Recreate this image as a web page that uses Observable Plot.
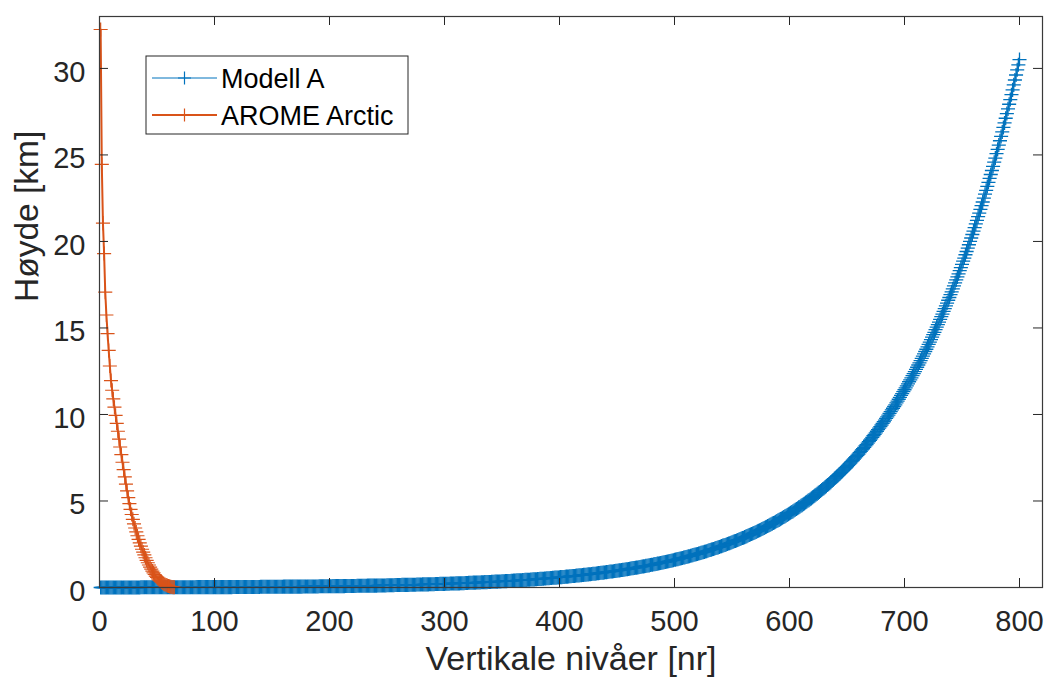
<!DOCTYPE html>
<html>
<head>
<meta charset="utf-8">
<script src="https://cdn.jsdelivr.net/npm/d3@7"></script>
<script src="https://cdn.jsdelivr.net/npm/@observablehq/plot@0.6"></script>
<style>
  html, body { margin: 0; padding: 0; background: #fff; overflow: hidden; }
  #chart { position: relative; width: 1048px; height: 680px; }
  #legend { position: absolute; left: 0; top: 0; pointer-events: none; }
</style>
</head>
<body>
<div id="chart"></div>
<script>
// Height [km] of each vertical level, level 1 first (ten levels per row)
const modellA = [
  0,0,0,0,0,0,0,0,0,0,
  0,0,0,0,0,0,0,0,0,0,
  0,0,0,0,0,0,0,0,0,0,
  0,0,0,0,0,0.01,0.01,0.01,0.01,0.01,
  0.01,0.01,0.01,0.01,0.01,0.01,0.01,0.01,0.01,0.01,
  0.01,0.01,0.01,0.01,0.01,0.01,0.01,0.01,0.01,0.01,
  0.01,0.01,0.01,0.01,0.01,0.01,0.01,0.01,0.01,0.01,
  0.01,0.01,0.01,0.01,0.01,0.01,0.01,0.01,0.01,0.01,
  0.01,0.01,0.01,0.02,0.02,0.02,0.02,0.02,0.02,0.02,
  0.02,0.02,0.02,0.02,0.02,0.02,0.02,0.02,0.02,0.02,
  0.02,0.02,0.02,0.02,0.02,0.02,0.02,0.02,0.02,0.02,
  0.02,0.02,0.02,0.02,0.02,0.03,0.03,0.03,0.03,0.03,
  0.03,0.03,0.03,0.03,0.03,0.03,0.03,0.03,0.03,0.03,
  0.03,0.03,0.03,0.03,0.03,0.03,0.03,0.03,0.03,0.04,
  0.04,0.04,0.04,0.04,0.04,0.04,0.04,0.04,0.04,0.04,
  0.04,0.04,0.04,0.04,0.04,0.04,0.04,0.04,0.04,0.05,
  0.05,0.05,0.05,0.05,0.05,0.05,0.05,0.05,0.05,0.05,
  0.05,0.05,0.05,0.05,0.05,0.05,0.06,0.06,0.06,0.06,
  0.06,0.06,0.06,0.06,0.06,0.06,0.06,0.06,0.06,0.06,
  0.07,0.07,0.07,0.07,0.07,0.07,0.07,0.07,0.07,0.07,
  0.07,0.07,0.08,0.08,0.08,0.08,0.08,0.08,0.08,0.08,
  0.08,0.08,0.08,0.09,0.09,0.09,0.09,0.09,0.09,0.09,
  0.09,0.09,0.09,0.10,0.10,0.10,0.10,0.10,0.10,0.10,
  0.10,0.10,0.11,0.11,0.11,0.11,0.11,0.11,0.11,0.11,
  0.11,0.12,0.12,0.12,0.12,0.12,0.12,0.12,0.12,0.13,
  0.13,0.13,0.13,0.13,0.13,0.13,0.14,0.14,0.14,0.14,
  0.14,0.14,0.15,0.15,0.15,0.15,0.15,0.15,0.15,0.16,
  0.16,0.16,0.16,0.16,0.16,0.17,0.17,0.17,0.17,0.17,
  0.18,0.18,0.18,0.18,0.18,0.18,0.19,0.19,0.19,0.19,
  0.19,0.20,0.20,0.20,0.20,0.21,0.21,0.21,0.21,0.21,
  0.22,0.22,0.22,0.22,0.23,0.23,0.23,0.23,0.23,0.24,
  0.24,0.24,0.24,0.25,0.25,0.25,0.25,0.26,0.26,0.26,
  0.27,0.27,0.27,0.27,0.28,0.28,0.28,0.29,0.29,0.29,
  0.29,0.30,0.30,0.30,0.31,0.31,0.31,0.32,0.32,0.32,
  0.33,0.33,0.33,0.34,0.34,0.34,0.35,0.35,0.35,0.36,
  0.36,0.36,0.37,0.37,0.38,0.38,0.38,0.39,0.39,0.40,
  0.40,0.40,0.41,0.41,0.42,0.42,0.42,0.43,0.43,0.44,
  0.44,0.45,0.45,0.45,0.46,0.46,0.47,0.47,0.48,0.48,
  0.49,0.49,0.50,0.50,0.51,0.51,0.52,0.52,0.53,0.53,
  0.54,0.55,0.55,0.56,0.56,0.57,0.57,0.58,0.58,0.59,
  0.60,0.60,0.61,0.61,0.62,0.63,0.63,0.64,0.65,0.65,
  0.66,0.67,0.67,0.68,0.69,0.69,0.70,0.71,0.71,0.72,
  0.73,0.74,0.74,0.75,0.76,0.77,0.77,0.78,0.79,0.80,
  0.80,0.81,0.82,0.83,0.84,0.85,0.85,0.86,0.87,0.88,
  0.89,0.90,0.91,0.92,0.92,0.93,0.94,0.95,0.96,0.97,
  0.98,0.99,1.00,1.01,1.02,1.03,1.04,1.05,1.06,1.07,
  1.08,1.10,1.11,1.12,1.13,1.14,1.15,1.16,1.17,1.19,
  1.20,1.21,1.22,1.23,1.25,1.26,1.27,1.28,1.30,1.31,
  1.32,1.34,1.35,1.36,1.38,1.39,1.40,1.42,1.43,1.45,
  1.46,1.47,1.49,1.50,1.52,1.53,1.55,1.56,1.58,1.60,
  1.61,1.63,1.64,1.66,1.68,1.69,1.71,1.73,1.74,1.76,
  1.78,1.80,1.81,1.83,1.85,1.87,1.89,1.91,1.92,1.94,
  1.96,1.98,2.00,2.02,2.04,2.06,2.08,2.10,2.12,2.15,
  2.17,2.19,2.21,2.23,2.25,2.28,2.30,2.32,2.34,2.37,
  2.39,2.42,2.44,2.46,2.49,2.51,2.54,2.56,2.59,2.61,
  2.64,2.67,2.69,2.72,2.75,2.77,2.80,2.83,2.86,2.88,
  2.91,2.94,2.97,3.00,3.03,3.06,3.09,3.12,3.15,3.18,
  3.21,3.25,3.28,3.31,3.34,3.38,3.41,3.44,3.48,3.51,
  3.55,3.58,3.62,3.65,3.69,3.73,3.76,3.80,3.84,3.88,
  3.91,3.95,3.99,4.03,4.07,4.11,4.15,4.19,4.23,4.28,
  4.32,4.36,4.40,4.45,4.49,4.54,4.58,4.63,4.67,4.72,
  4.76,4.81,4.86,4.91,4.96,5.01,5.05,5.10,5.15,5.21,
  5.26,5.31,5.36,5.41,5.47,5.52,5.58,5.63,5.69,5.74,
  5.80,5.86,5.92,5.97,6.03,6.09,6.15,6.21,6.28,6.34,
  6.40,6.46,6.53,6.59,6.66,6.72,6.79,6.86,6.92,6.99,
  7.06,7.13,7.20,7.27,7.34,7.42,7.49,7.56,7.64,7.71,
  7.79,7.87,7.95,8.02,8.10,8.18,8.26,8.34,8.43,8.51,
  8.59,8.68,8.77,8.85,8.94,9.03,9.12,9.21,9.30,9.39,
  9.48,9.58,9.67,9.77,9.86,9.96,10.06,10.16,10.26,10.36,
  10.46,10.56,10.67,10.77,10.88,10.99,11.10,11.21,11.32,11.43,
  11.54,11.65,11.77,11.89,12.00,12.12,12.24,12.36,12.48,12.61,
  12.73,12.86,12.98,13.11,13.24,13.37,13.50,13.64,13.77,13.91,
  14.05,14.18,14.32,14.47,14.61,14.75,14.90,15.05,15.19,15.34,
  15.50,15.65,15.80,15.96,16.12,16.28,16.44,16.60,16.76,16.93,
  17.09,17.26,17.43,17.61,17.78,17.95,18.13,18.31,18.49,18.67,
  18.86,19.04,19.23,19.42,19.61,19.81,20.00,20.20,20.40,20.60,
  20.80,21.01,21.22,21.43,21.64,21.85,22.07,22.28,22.50,22.73,
  22.95,23.18,23.41,23.64,23.87,24.10,24.34,24.58,24.82,25.07,
  25.32,25.57,25.82,26.07,26.33,26.59,26.85,27.12,27.39,27.66,
  27.93,28.20,28.48,28.76,29.05,29.33,29.62,29.92,30.21,30.51
];

// AROME Arctic: height [km] of its 65 levels, level 1 (model top) first
const aromeArctic = [
  32.25, 24.45, 21.06, 19.30, 17.07, 15.75, 14.67, 13.70, 12.80, 11.96,
  11.40, 10.90, 10.42, 9.95, 9.49, 9.03, 8.57, 8.12, 7.68, 7.24,
  6.81, 6.39, 5.98, 5.58, 5.19, 4.85, 4.52, 4.22, 3.94, 3.68,
  3.44, 3.21, 2.99, 2.78, 2.58, 2.39, 2.21, 2.04, 1.88, 1.72,
  1.57, 1.43, 1.30, 1.18, 1.06, 0.95, 0.85, 0.75, 0.66, 0.58,
  0.50, 0.43, 0.37, 0.31, 0.26, 0.21, 0.17, 0.14, 0.11, 0.085,
  0.065, 0.047, 0.032, 0.02, 0.01
];

const seriesNames = ["Modell A", "AROME Arctic"];
const seriesColors = ["#0072BD", "#D95319"];
const xTicks = [0, 100, 200, 300, 400, 500, 600, 700, 800];
const yTicks = [0, 5, 10, 15, 20, 25, 30];
const xLabel = "Vertikale nivåer [nr]";
const yLabel = "Høyde [km]";

// level number -> height rows
const rowsA = modellA.map((h, i) => ({level: i + 1, h}));
const rowsB = aromeArctic.map((h, i) => ({level: i + 1, h}));

const W = 1048, H = 680;
const mL = 99, mR = 6, mT = 16, mB = 93;
const innerW = W - mL - mR, innerH = H - mT - mB;
const tickLen = 9;
const markerR = 4.6; // "plus" symbol with arms about 7px long
const ink = "#262626";
const font = '"Liberation Sans", Arial, Helvetica, sans-serif';

const chart = Plot.plot({
  width: W,
  height: H,
  marginLeft: mL,
  marginRight: mR,
  marginTop: mT,
  marginBottom: mB,
  style: {fontFamily: font, background: "#fff", color: ink},
  x: {domain: [0, 820]},
  y: {domain: [0, 33]},
  marks: [
    // Modell A (markers are drawn whole, even where they reach past the box)
    Plot.line(rowsA, {x: "level", y: "h", stroke: seriesColors[0], strokeWidth: 1}),
    Plot.dot(rowsA, {x: "level", y: "h", symbol: "plus", r: markerR, stroke: seriesColors[0], strokeWidth: 1.3}),
    // AROME Arctic
    Plot.line(rowsB, {x: "level", y: "h", stroke: seriesColors[1], strokeWidth: 2}),
    Plot.dot(rowsB, {x: "level", y: "h", symbol: "plus", r: markerR, stroke: seriesColors[1], strokeWidth: 1.2}),
    // inward ticks on all four sides of the box
    Plot.tickX(xTicks, {x: d => d, insetTop: innerH - tickLen, stroke: ink}),
    Plot.tickX(xTicks, {x: d => d, insetBottom: innerH - tickLen, stroke: ink}),
    Plot.tickY(yTicks, {y: d => d, insetRight: innerW - tickLen, stroke: ink}),
    Plot.tickY(yTicks, {y: d => d, insetLeft: innerW - tickLen, stroke: ink}),
    Plot.frame({stroke: "#3a3a3a", strokeWidth: 1.2}),
    Plot.axisX({ticks: xTicks, tickSize: 0, tickPadding: 23, fontSize: 29, label: null, tickFormat: d => String(d)}),
    Plot.axisY({ticks: yTicks, tickSize: 0, tickPadding: 14, fontSize: 29, label: null, dy: 4, tickFormat: d => String(d)}),
    Plot.text([xLabel], {frameAnchor: "bottom", dy: 82, fontSize: 34, fill: ink, text: d => d}),
    Plot.text([yLabel], {frameAnchor: "left", dx: -72, rotate: -90, fontSize: 33.5, fill: ink, text: d => d})
  ]
});

const root = document.getElementById("chart");
root.appendChild(chart);

// legend box in the upper-left corner of the axes
const legend = d3.select(root).append("svg")
  .attr("id", "legend")
  .attr("width", W)
  .attr("height", H)
  .style("font-family", font);

legend.append("rect")
  .attr("x", 146).attr("y", 56).attr("width", 262).attr("height", 78)
  .attr("fill", "#fff").attr("stroke", ink).attr("stroke-width", 1);

const rowY = [78, 115];
seriesNames.forEach((name, i) => {
  const g = legend.append("g").attr("transform", `translate(0,${rowY[i]})`);
  g.append("line")
    .attr("x1", 152).attr("x2", 217).attr("y1", 0).attr("y2", 0)
    .attr("stroke", seriesColors[i]).attr("stroke-width", i === 0 ? 1 : 2);
  g.append("path")
    .attr("d", "M178,0H191M184.5,-6.5V6.5")
    .attr("stroke", seriesColors[i]).attr("stroke-width", 1.2).attr("fill", "none");
  g.append("text")
    .attr("x", 221).attr("y", 9.5)
    .attr("font-size", 27).attr("fill", "#000")
    .text(name);
});
</script>
</body>
</html>
